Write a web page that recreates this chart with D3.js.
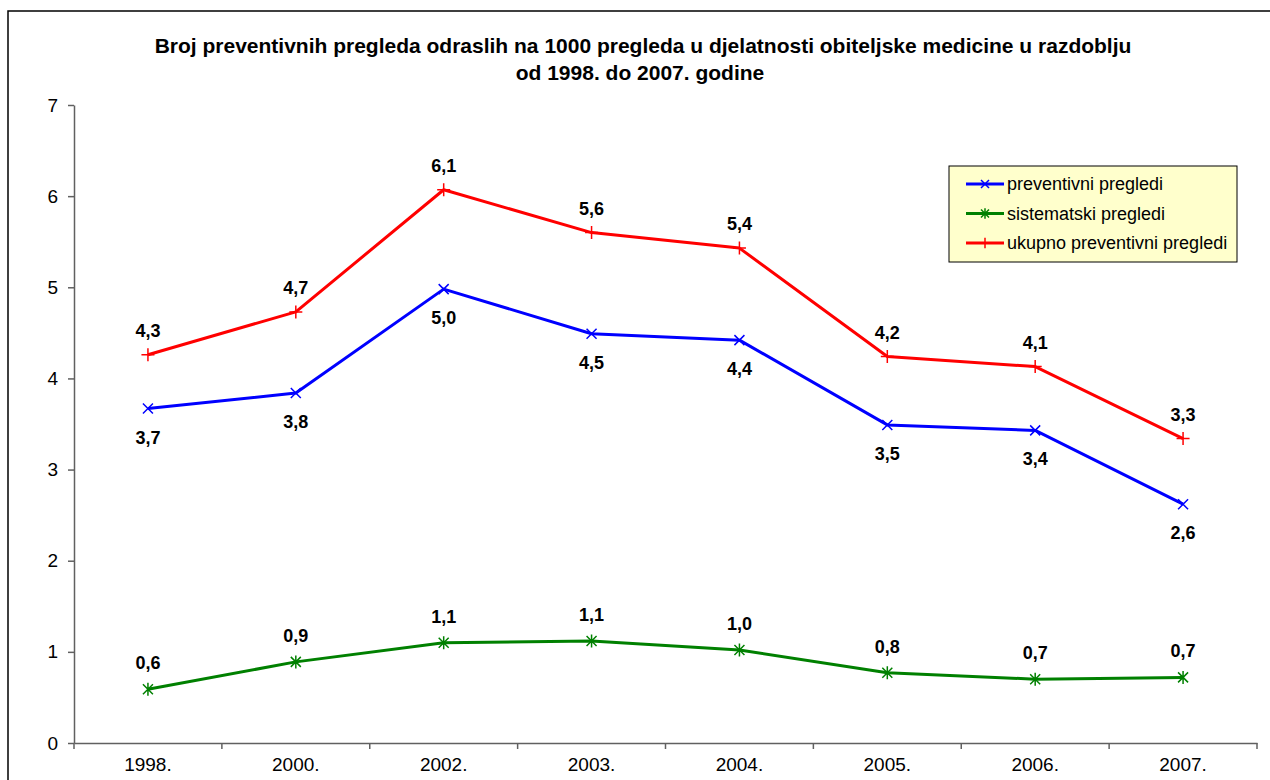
<!DOCTYPE html>
<html>
<head>
<meta charset="utf-8">
<script src="https://cdn.jsdelivr.net/npm/d3@7"></script>
<style>
  body { margin: 0; background: #fff; }
  svg { display: block; font-family: "Liberation Sans", Arial, sans-serif; }
</style>
</head>
<body>
<div id="chart"></div>
<script>
const years = ["1998.", "2000.", "2002.", "2003.", "2004.", "2005.", "2006.", "2007."];
const preventivni = [3.67, 3.84, 4.98, 4.49, 4.42, 3.49, 3.43, 2.62];
const sistematski = [0.59, 0.89, 1.10, 1.12, 1.02, 0.77, 0.70, 0.72];
const ukupno = [4.26, 4.73, 6.07, 5.60, 5.43, 4.24, 4.13, 3.34];
const yTicks = [0, 1, 2, 3, 4, 5, 6, 7];

const W = 1270, H = 780;
const margin = { top: 105, right: 13, bottom: 37, left: 74 };
const width = W - margin.left - margin.right;
const height = H - margin.top - margin.bottom;

const svg = d3.select("#chart")
    .append("svg")
    .attr("width", W)
    .attr("height", H);

// outer frame
svg.append("rect")
    .attr("x", 8)
    .attr("y", 11)
    .attr("width", W + 10)
    .attr("height", H + 10)
    .attr("fill", "none")
    .attr("stroke", "#000")
    .attr("stroke-width", 1.5);

svg.append("text")
    .attr("x", 643)
    .attr("y", 53)
    .attr("text-anchor", "middle")
    .attr("font-size", "21px")
    .attr("font-weight", "bold")
    .text("Broj preventivnih pregleda odraslih na 1000 pregleda u djelatnosti obiteljske medicine u razdoblju");

svg.append("text")
    .attr("x", 640)
    .attr("y", 80)
    .attr("text-anchor", "middle")
    .attr("font-size", "21px")
    .attr("font-weight", "bold")
    .text("od 1998. do 2007. godine");

const g = svg.append("g")
    .attr("transform", `translate(${margin.left},${margin.top})`);

const x = d3.scaleBand()
    .domain(years)
    .range([0, width]);

const y = d3.scaleLinear()
    .domain([0, 7])
    .range([height, 0]);

g.append("g")
    .attr("class", "x-axis")
    .attr("transform", `translate(0,${height})`)
    .call(d3.axisBottom(x).tickSize(0).tickPadding(14).tickSizeOuter(0));

// band boundary ticks
g.append("g")
    .selectAll("line")
    .data(d3.range(years.length + 1))
    .join("line")
    .attr("x1", i => i * x.step())
    .attr("x2", i => i * x.step())
    .attr("y1", height)
    .attr("y2", height + 6)
    .attr("stroke", "#606060")
    .attr("stroke-width", 1.5);

g.append("g")
    .attr("class", "y-axis")
    .call(d3.axisLeft(y).tickValues(yTicks).tickFormat(d3.format("d")).tickSize(6).tickPadding(10).tickSizeOuter(0));

svg.selectAll(".x-axis path, .y-axis path")
    .attr("stroke", "#606060")
    .attr("stroke-width", 1.5);
svg.selectAll(".y-axis line")
    .attr("stroke", "#606060")
    .attr("stroke-width", 1.5);
svg.selectAll(".x-axis text, .y-axis text")
    .attr("fill", "#000")
    .attr("font-size", "19px")
    .attr("font-family", "Liberation Sans, Arial, sans-serif");
svg.selectAll(".x-axis text").attr("dy", "0.75em");

const fmt = v => d3.format(".1f")(v).replace(".", ",");

const series = [
    { name: "preventivni pregledi", values: preventivni, color: "#0000FF", marker: "x", dy: 35 },
    { name: "sistematski pregledi", values: sistematski, color: "#008000", marker: "star", dy: -20 },
    { name: "ukupno preventivni pregledi", values: ukupno, color: "#FF0000", marker: "plus", dy: -18 }
];

function markerPath(type, s) {
    if (type === "x") return `M${-s},${-s}L${s},${s}M${-s},${s}L${s},${-s}`;
    if (type === "plus") return `M${-s * 1.3},0L${s * 1.3},0M0,${-s * 1.3}L0,${s * 1.3}`;
    return `M${-s},${-s}L${s},${s}M${-s},${s}L${s},${-s}M0,${-s * 1.3}L0,${s * 1.3}`;
}

const line = d3.line()
    .x((d, i) => x(years[i]) + x.bandwidth() / 2)
    .y(d => y(d));

series.forEach(s => {
    g.append("path")
        .datum(s.values)
        .attr("fill", "none")
        .attr("stroke", s.color)
        .attr("stroke-width", 3)
        .attr("stroke-linejoin", "round")
        .attr("d", line);

    g.selectAll(null)
        .data(s.values)
        .join("path")
        .attr("transform", (d, i) => `translate(${x(years[i]) + x.bandwidth() / 2},${y(d)})`)
        .attr("d", markerPath(s.marker, 5))
        .attr("stroke", s.color)
        .attr("stroke-width", 1.5)
        .attr("fill", "none");

    g.selectAll(null)
        .data(s.values)
        .join("text")
        .attr("x", (d, i) => x(years[i]) + x.bandwidth() / 2)
        .attr("y", d => y(d) + s.dy)
        .attr("text-anchor", "middle")
        .attr("font-size", "18px")
        .attr("font-weight", "bold")
        .text(d => fmt(d));
});

// legend
const legend = svg.append("g")
    .attr("transform", "translate(949,166)");

legend.append("rect")
    .attr("width", 288)
    .attr("height", 96)
    .attr("fill", "#FFFFCC")
    .attr("stroke", "#000")
    .attr("stroke-width", 1);

const items = legend.selectAll(".legend-item")
    .data(series)
    .join("g")
    .attr("class", "legend-item")
    .attr("transform", (d, i) => `translate(0,${18 + i * 29.5})`);

items.append("line")
    .attr("x1", 17)
    .attr("x2", 55)
    .attr("stroke", d => d.color)
    .attr("stroke-width", 3);

items.append("path")
    .attr("transform", "translate(36,0)")
    .attr("d", d => markerPath(d.marker, 4))
    .attr("stroke", d => d.color)
    .attr("stroke-width", 1.5)
    .attr("fill", "none");

items.append("text")
    .attr("x", 58)
    .attr("y", 6)
    .attr("font-size", "18px")
    .text(d => d.name);
</script>
</body>
</html>
